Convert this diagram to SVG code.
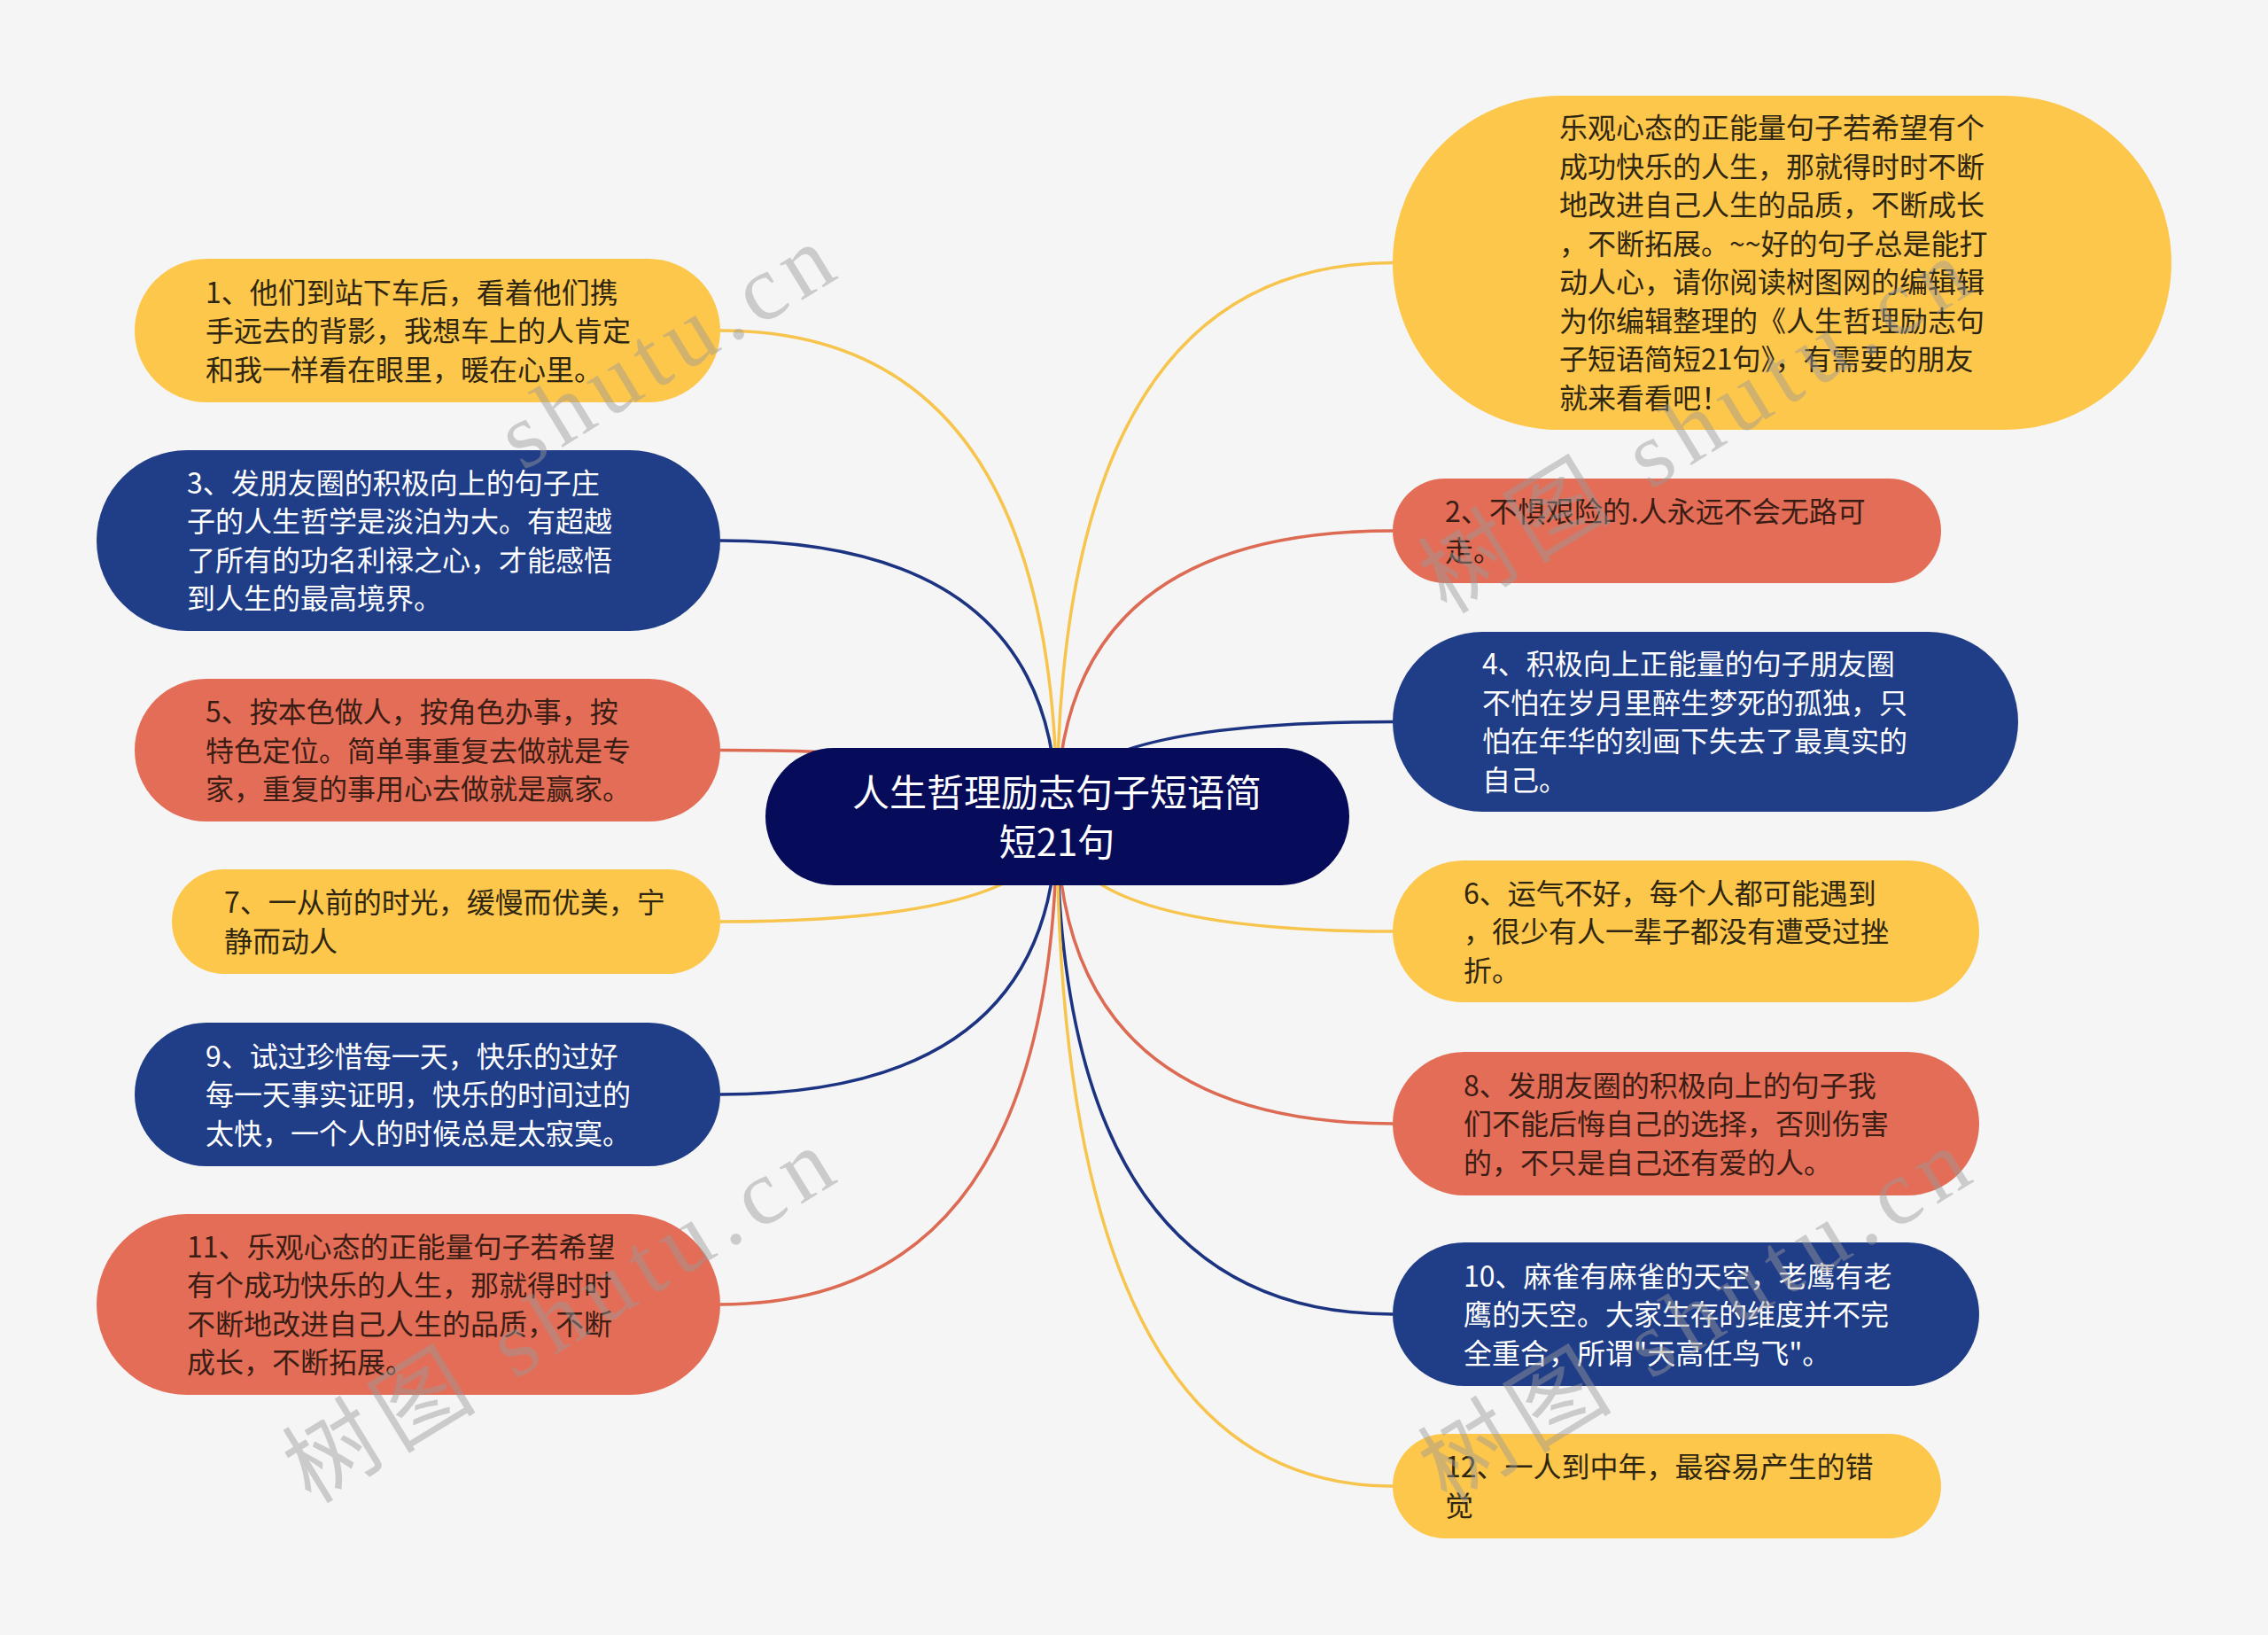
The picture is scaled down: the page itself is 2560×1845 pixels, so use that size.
<svg xmlns="http://www.w3.org/2000/svg" width="2560" height="1845" viewBox="0 0 2560 1845">
<style>
.t{font-family:"Noto Sans CJK SC","Noto Sans",sans-serif;font-size:32px}
.ty{fill:#2f2612}
.tr{fill:#3a1d14}
.tb{fill:#ffffff}
.ny{fill:#FDC74B}
.nr{fill:#E46D57}
.nb{fill:#203D88}
.c{fill:none;stroke-width:3.5}
.cy{stroke:#F7C54E}
.cr{stroke:#DD6A53}
.cb{stroke:#1B3380}
.wm{font-family:"Liberation Serif","Noto Sans CJK SC",serif;font-size:105px;fill:#9a9a9a;opacity:0.45}
</style>
<rect x="0" y="0" width="2560" height="1845" fill="#F5F5F5"/>
<g id="connectors">
<path class="c cy" d="M1193 921 Q1193 373 813 373"/>
<path class="c cb" d="M1193 921 Q1193 610 813 610"/>
<path class="c cr" d="M1193 921 Q1193 846.5 813 846.5"/>
<path class="c cy" d="M1193 921 Q1193 1040 813 1040"/>
<path class="c cb" d="M1193 921 Q1193 1235 813 1235"/>
<path class="c cr" d="M1193 921 Q1193 1472 813 1472"/>
<path class="c cy" d="M1193 921 Q1193 296.5 1572 296.5"/>
<path class="c cr" d="M1193 921 Q1193 599 1572 599"/>
<path class="c cb" d="M1193 921 Q1193 814.5 1572 814.5"/>
<path class="c cy" d="M1193 921 Q1193 1051 1572 1051"/>
<path class="c cr" d="M1193 921 Q1193 1268 1572 1268"/>
<path class="c cb" d="M1193 921 Q1193 1483 1572 1483"/>
<path class="c cy" d="M1193 921 Q1193 1677 1572 1677"/>
</g>
<g id="center">
<rect x="864" y="844" width="659" height="155" rx="77.5" fill="#070C5A"/>
<text font-family="Noto Sans CJK SC, sans-serif" font-size="42" fill="#ffffff" text-anchor="middle"><tspan x="1193" y="910">人生哲理励志句子短语简</tspan><tspan x="1193" y="966">短21句</tspan></text>
</g>
<g id="n1">
<rect class="ny" x="152" y="292" width="661" height="162" rx="81"/>
<text class="t ty"><tspan x="232" y="341.5">1、他们到站下车后，看着他们携</tspan><tspan x="232" dy="43.5">手远去的背影，我想车上的人肯定</tspan><tspan x="232" dy="43.5">和我一样看在眼里，暖在心里。</tspan></text>
</g>
<g id="n3">
<rect class="nb" x="109" y="508" width="704" height="204" rx="102"/>
<text class="t tb"><tspan x="211" y="556.75">3、发朋友圈的积极向上的句子庄</tspan><tspan x="211" dy="43.5">子的人生哲学是淡泊为大。有超越</tspan><tspan x="211" dy="43.5">了所有的功名利禄之心，才能感悟</tspan><tspan x="211" dy="43.5">到人生的最高境界。</tspan></text>
</g>
<g id="n5">
<rect class="nr" x="152" y="766" width="661" height="161" rx="80.5"/>
<text class="t tr"><tspan x="232" y="815">5、按本色做人，按角色办事，按</tspan><tspan x="232" dy="43.5">特色定位。简单事重复去做就是专</tspan><tspan x="232" dy="43.5">家，重复的事用心去做就是赢家。</tspan></text>
</g>
<g id="n7">
<rect class="ny" x="194" y="981" width="619" height="118" rx="59"/>
<text class="t ty"><tspan x="253" y="1030.25">7、一从前的时光，缓慢而优美，宁</tspan><tspan x="253" dy="43.5">静而动人</tspan></text>
</g>
<g id="n9">
<rect class="nb" x="152" y="1154" width="661" height="162" rx="81"/>
<text class="t tb"><tspan x="232" y="1203.5">9、试过珍惜每一天，快乐的过好</tspan><tspan x="232" dy="43.5">每一天事实证明，快乐的时间过的</tspan><tspan x="232" dy="43.5">太快，一个人的时候总是太寂寞。</tspan></text>
</g>
<g id="n11">
<rect class="nr" x="109" y="1370" width="704" height="204" rx="102"/>
<text class="t tr"><tspan x="211" y="1418.75">11、乐观心态的正能量句子若希望</tspan><tspan x="211" dy="43.5">有个成功快乐的人生，那就得时时</tspan><tspan x="211" dy="43.5">不断地改进自己人生的品质，不断</tspan><tspan x="211" dy="43.5">成长，不断拓展。</tspan></text>
</g>
<g id="n0">
<rect class="ny" x="1572" y="108" width="879" height="377" rx="188.5"/>
<text class="t ty"><tspan x="1760" y="156.25">乐观心态的正能量句子若希望有个</tspan><tspan x="1760" dy="43.5">成功快乐的人生，那就得时时不断</tspan><tspan x="1760" dy="43.5">地改进自己人生的品质，不断成长</tspan><tspan x="1760" dy="43.5">，不断拓展。~~好的句子总是能打</tspan><tspan x="1760" dy="43.5">动人心，请你阅读树图网的编辑辑</tspan><tspan x="1760" dy="43.5">为你编辑整理的《人生哲理励志句</tspan><tspan x="1760" dy="43.5">子短语简短21句》，有需要的朋友</tspan><tspan x="1760" dy="43.5">就来看看吧！</tspan></text>
</g>
<g id="n2">
<rect class="nr" x="1572" y="540" width="619" height="118" rx="59"/>
<text class="t tr"><tspan x="1631" y="589.25">2、不惧艰险的.人永远不会无路可</tspan><tspan x="1631" dy="43.5">走。</tspan></text>
</g>
<g id="n4">
<rect class="nb" x="1572" y="713" width="706" height="203" rx="101.5"/>
<text class="t tb"><tspan x="1673" y="761.25">4、积极向上正能量的句子朋友圈</tspan><tspan x="1673" dy="43.5">不怕在岁月里醉生梦死的孤独，只</tspan><tspan x="1673" dy="43.5">怕在年华的刻画下失去了最真实的</tspan><tspan x="1673" dy="43.5">自己。</tspan></text>
</g>
<g id="n6">
<rect class="ny" x="1572" y="971" width="662" height="160" rx="80"/>
<text class="t ty"><tspan x="1652" y="1019.5">6、运气不好，每个人都可能遇到</tspan><tspan x="1652" dy="43.5">，很少有人一辈子都没有遭受过挫</tspan><tspan x="1652" dy="43.5">折。</tspan></text>
</g>
<g id="n8">
<rect class="nr" x="1572" y="1187" width="662" height="162" rx="81"/>
<text class="t tr"><tspan x="1652" y="1236.5">8、发朋友圈的积极向上的句子我</tspan><tspan x="1652" dy="43.5">们不能后悔自己的选择，否则伤害</tspan><tspan x="1652" dy="43.5">的，不只是自己还有爱的人。</tspan></text>
</g>
<g id="n10">
<rect class="nb" x="1572" y="1402" width="662" height="162" rx="81"/>
<text class="t tb"><tspan x="1652" y="1451.5">10、麻雀有麻雀的天空，老鹰有老</tspan><tspan x="1652" dy="43.5">鹰的天空。大家生存的维度并不完</tspan><tspan x="1652" dy="43.5">全重合，所谓"天高任鸟飞"。</tspan></text>
</g>
<g id="n12">
<rect class="ny" x="1572" y="1618" width="619" height="118" rx="59"/>
<text class="t ty"><tspan x="1631" y="1667.25">12、一人到中年，最容易产生的错</tspan><tspan x="1631" dy="43.5">觉</tspan></text>
</g>
<g id="watermarks">
<text class="wm" transform="translate(590 532) rotate(-31.5)" textLength="420" lengthAdjust="spacing">shutu.cn</text>
<text class="wm" transform="translate(351 1698) rotate(-31.5)" textLength="700" lengthAdjust="spacing">树图 shutu.cn</text>
<text class="wm" transform="translate(1633 694) rotate(-31.5)" textLength="700" lengthAdjust="spacing">树图 shutu.cn</text>
<text class="wm" transform="translate(1633 1698) rotate(-31.5)" textLength="700" lengthAdjust="spacing">树图 shutu.cn</text>
</g>
</svg>
